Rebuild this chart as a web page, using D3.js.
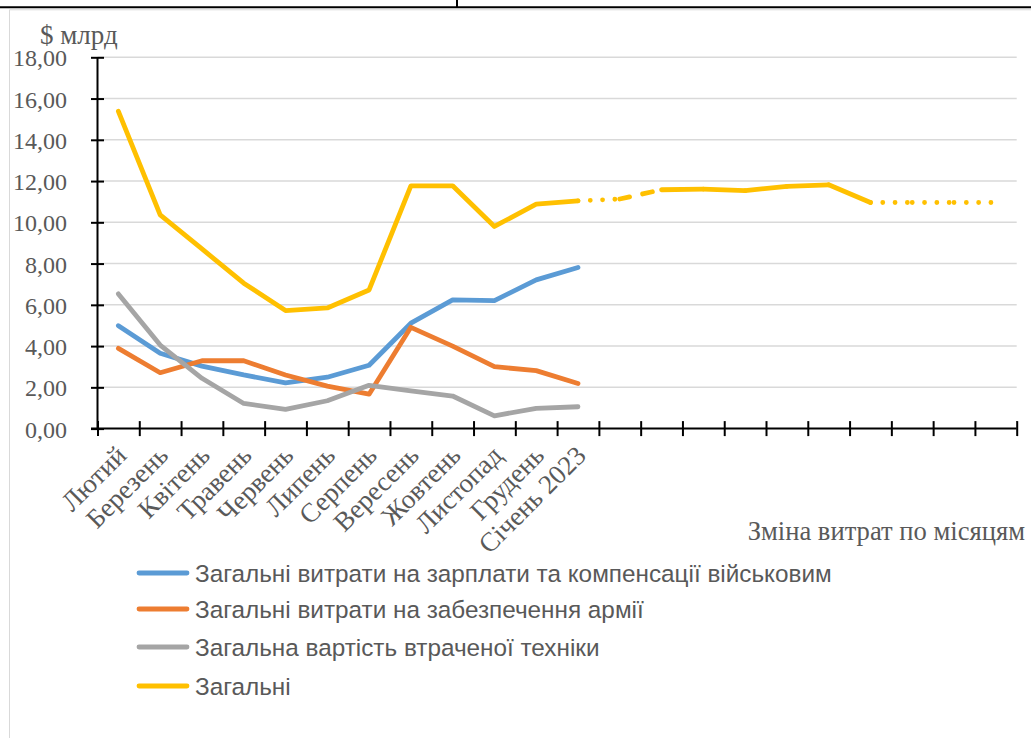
<!DOCTYPE html>
<html>
<head>
<meta charset="utf-8">
<script src="https://cdn.jsdelivr.net/npm/d3@7"></script>
<style>
  html, body { margin: 0; padding: 0; background: #fff; overflow: hidden; }
  svg { display: block; }
</style>
</head>
<body>
<svg id="chart" width="1031" height="738"></svg>
<script>
// Monthly categories; the ten trailing slots hold the outlook and carry no label
const categories = ["Лютий", "Березень", "Квітень", "Травень", "Червень", "Липень",
  "Серпень", "Вересень", "Жовтень", "Листопад", "Грудень", "Січень 2023",
  "", "", "", "", "", "", "", "", "", ""];

// Spending series, $ bn per month (Feb 2022 – Jan 2023)
const salaries  = [4.99, 3.65, 3.03, 2.60, 2.22, 2.49, 3.07, 5.11, 6.24, 6.20, 7.21, 7.81];
const supply    = [3.89, 2.71, 3.29, 3.29, 2.60, 2.06, 1.67, 4.91, 4.00, 3.00, 2.81, 2.19];
const equipment = [6.53, 4.05, 2.44, 1.22, 0.93, 1.35, 2.10, 1.83, 1.58, 0.62, 0.98, 1.06];
const total     = [15.38, 10.36, 8.71, 7.05, 5.72, 5.85, 6.72, 11.77, 11.77, 9.80, 10.88, 11.04];

// Outlook for the total, starting at January 2023 (slot 11)
const outlookStart = 11;
const totalOutlook = [11.04, 11.13, 11.58, 11.61, 11.54, 11.74, 11.82, 10.96, 10.96, 10.96, 10.96];
// line style of each outlook segment
const outlookStyle = ["dot", "dash", "solid", "solid", "solid", "solid", "solid", "dot", "dot", "dot"];

const yTicks = [0, 2, 4, 6, 8, 10, 12, 14, 16, 18];

const seriesNames = [
  "Загальні витрати на зарплати та компенсації військовим",
  "Загальні витрати на забезпечення армії",
  "Загальна вартість втраченої техніки",
  "Загальні"
];
const seriesColors = ["#5B9BD5", "#ED7D31", "#A5A5A5", "#FFC000"];

const svg = d3.select("#chart");
const W = 1031, H = 738;
const plot = { left: 97.5, right: 1016.7, top: 57.3, bottom: 428.6 };
const textGray = "#595959";
const serif = "'Liberation Serif', 'Times New Roman', serif";
const sans = "'Liberation Sans', Arial, sans-serif";

svg.append("rect").attr("width", W).attr("height", H).attr("fill", "#fff");

// rule of the page layout above the chart
svg.append("line").attr("x1", 0).attr("x2", W).attr("y1", 7.3).attr("y2", 7.3)
  .attr("stroke", "#000").attr("stroke-width", 2);
svg.append("line").attr("x1", 457).attr("x2", 457).attr("y1", 0).attr("y2", 7)
  .attr("stroke", "#000").attr("stroke-width", 2);

// chart frame
svg.append("path")
  .attr("d", `M9.5,${H + 5} L9.5,9.8 L${W + 5},9.8`)
  .attr("fill", "none").attr("stroke", "#D9D9D9").attr("stroke-width", 1);

// scales
const x = d3.scaleBand().domain(d3.range(categories.length)).range([plot.left, plot.right]).padding(0);
const xEdge = d3.scaleLinear().domain([0, categories.length]).range([plot.left, plot.right]);
const y = d3.scaleLinear().domain([0, 18]).range([plot.bottom, plot.top]);
const cx = i => x(i) + x.bandwidth() / 2;

// horizontal gridlines
svg.append("g").selectAll("line").data(yTicks.filter(v => v > 0)).join("line")
  .attr("x1", plot.left).attr("x2", plot.right)
  .attr("y1", d => y(d)).attr("y2", d => y(d))
  .attr("stroke", "#D9D9D9").attr("stroke-width", 1.5);

// y axis
const yAxis = svg.append("g")
  .attr("transform", `translate(${plot.left},0)`)
  .call(d3.axisLeft(y).tickValues(yTicks).tickSize(6.5).tickPadding(24)
    .tickFormat(d => d3.format(".2f")(d).replace(".", ",")));
yAxis.select(".domain").attr("stroke", "#000").attr("stroke-width", 2)
  .attr("d", `M0,${plot.top} V${plot.bottom}`);
yAxis.selectAll(".tick line").attr("x1", -6.5).attr("x2", 6.5)
  .attr("stroke", "#000").attr("stroke-width", 2);
yAxis.selectAll(".tick text").attr("font-family", serif).attr("font-size", 24)
  .attr("fill", textGray).attr("dy", "0.36em");

// x axis: ticks on category boundaries
const xAxis = svg.append("g")
  .attr("transform", `translate(0,${plot.bottom})`)
  .call(d3.axisBottom(xEdge).tickValues(d3.range(categories.length + 1)).tickSize(7).tickFormat(""));
xAxis.select(".domain").attr("stroke", "#000").attr("stroke-width", 2)
  .attr("d", `M${plot.left - 6.5},0 H${plot.right}`);
xAxis.selectAll(".tick line").attr("y1", -7.5).attr("y2", 7.5)
  .attr("stroke", "#000").attr("stroke-width", 2);

// rotated month labels
svg.append("g").selectAll("text").data(categories.map((c, i) => [c, i]).filter(d => d[0]))
  .join("text")
  .attr("transform", d => `translate(${cx(d[1]) + 3},${plot.bottom + 22}) rotate(-45)`)
  .attr("text-anchor", "end").attr("dy", "0.34em")
  .attr("font-family", serif).attr("font-size", 27).attr("fill", textGray)
  .text(d => d[0]);

// axis captions
svg.append("text").attr("x", 40).attr("y", 43.5)
  .attr("font-family", serif).attr("font-size", 27).attr("fill", textGray)
  .text("$ млрд");
svg.append("text").attr("x", 1025).attr("y", 540).attr("text-anchor", "end")
  .attr("font-family", serif).attr("font-size", 26.6).attr("fill", textGray)
  .text("Зміна витрат по місяцям");

// series lines
const line = d3.line().x((d, i) => cx(i)).y(d => y(d));
const series = [salaries, supply, equipment, total];
svg.append("g").selectAll("path").data(series).join("path")
  .attr("d", line)
  .attr("fill", "none")
  .attr("stroke", (d, i) => seriesColors[i])
  .attr("stroke-width", 4.8)
  .attr("stroke-linejoin", "round").attr("stroke-linecap", "round");

// outlook segments for the total
const dashes = { solid: null, dot: "0 12.3", dash: "10 13.4" };
const outlookSegs = outlookStyle.map((s, k) => ({
  style: s,
  pts: [[cx(outlookStart + k), y(totalOutlook[k])], [cx(outlookStart + k + 1), y(totalOutlook[k + 1])]]
}));
svg.append("g").selectAll("path").data(outlookSegs).join("path")
  .attr("d", d => d3.line()(d.pts))
  .attr("fill", "none").attr("stroke", seriesColors[3]).attr("stroke-width", 4.8)
  .attr("stroke-linecap", "round").attr("stroke-linejoin", "round")
  .attr("stroke-dasharray", d => dashes[d.style]);

// legend
const legendY = [573, 609, 647, 686];
const lg = svg.append("g").selectAll("g").data(seriesNames).join("g")
  .attr("transform", (d, i) => `translate(0,${legendY[i]})`);
lg.append("line").attr("x1", 139).attr("x2", 187).attr("y1", 0).attr("y2", 0)
  .attr("stroke", (d, i) => seriesColors[i]).attr("stroke-width", 4.8).attr("stroke-linecap", "round");
lg.append("text").attr("x", 195).attr("dy", "0.35em")
  .attr("font-family", sans).attr("font-size", 24.3).attr("fill", textGray)
  .text(d => d);
</script>
</body>
</html>
